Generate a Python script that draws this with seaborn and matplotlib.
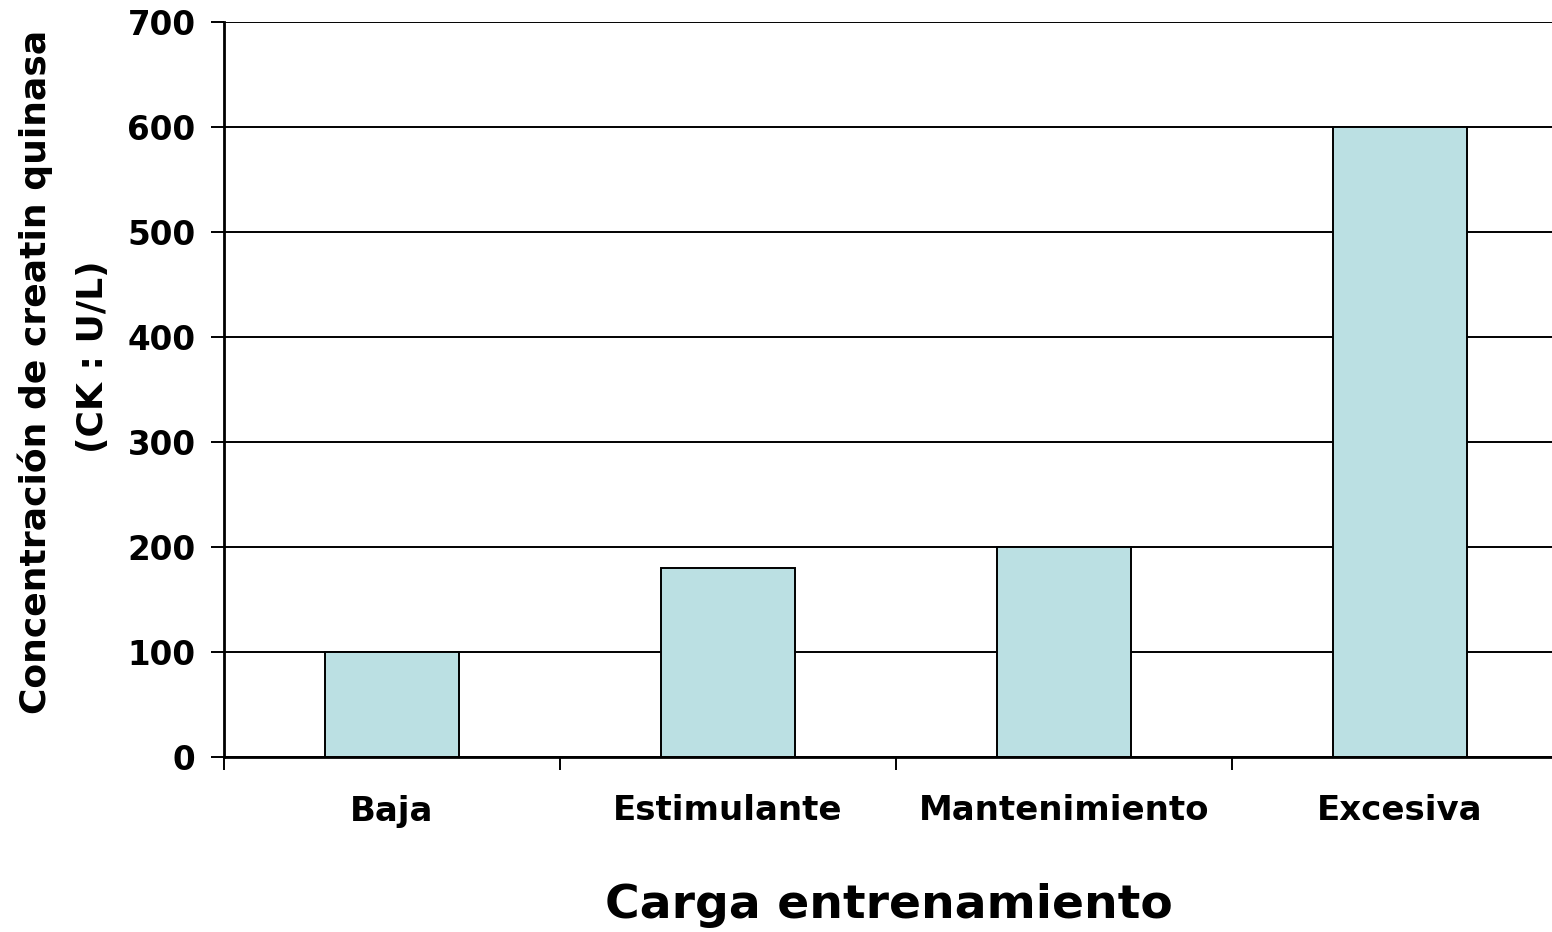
import matplotlib
matplotlib.use("Agg")
import matplotlib.pyplot as plt
import seaborn as sns
import pandas as pd
from matplotlib.ticker import FixedLocator

categories = ["Baja", "Estimulante", "Mantenimiento", "Excesiva"]
values = [100, 180, 200, 600]
y_ticks = [0, 100, 200, 300, 400, 500, 600, 700]

sns.set_theme(style="white")
plt.rcParams['font.family'] = ['DejaVu Sans']
plt.rcParams['font.weight'] = 'bold'

df = pd.DataFrame({"Carga": categories, "CK": values})

fig = plt.figure(figsize=(15.52, 9.32), dpi=100)
ax = fig.add_axes([224/1552, (932-757)/932, (1568-224)/1552, (757-22)/932])

sns.barplot(data=df, x="Carga", y="CK", ax=ax, color="#BBE0E3", saturation=1,
            width=0.396, edgecolor="black", linewidth=1.4, zorder=3)

ax.set_xlim(-0.5, 3.5)
ax.set_ylim(0, 700)
ax.set_yticks(y_ticks)
ax.yaxis.grid(True, color="black", linewidth=1.4, zorder=0)
ax.set_axisbelow(True)

for s in ["top", "right"]:
    ax.spines[s].set_visible(False)
for s in ["left", "bottom"]:
    ax.spines[s].set_color("black")
    ax.spines[s].set_linewidth(2.0)
    ax.spines[s].set_zorder(4)

ax.tick_params(axis="y", which="major", direction="out", length=9.5, width=1.4,
               color="black", pad=11, labelsize=23.5, left=True)
ax.tick_params(axis="x", which="major", length=0, pad=27, labelsize=24.5)
ax.xaxis.set_minor_locator(FixedLocator([-0.5, 0.5, 1.5, 2.5, 3.5]))
ax.tick_params(axis="x", which="minor", direction="out", length=9.5, width=1.4,
               color="black", bottom=True)
for lab in ax.get_xticklabels() + ax.get_yticklabels():
    lab.set_fontweight("bold")
    lab.set_color("black")

ax.set_xlabel("")
ax.set_ylabel("")
fig.text(0.5 * (607 + 1170) / 1552, 1 - 905/932, "Carga entrenamiento",
         ha="center", va="center", fontsize=34, fontweight="bold", color="black")
fig.text(35/1552, 1 - 372/932, "Concentración de creatin quinasa", rotation=90,
         ha="center", va="center", fontsize=26, fontweight="bold", color="black")
fig.text(93/1552, 1 - 357/932, "(CK : U/L)", rotation=90,
         ha="center", va="center", fontsize=26, fontweight="bold", color="black")

fig.savefig("out.png", dpi=100)
